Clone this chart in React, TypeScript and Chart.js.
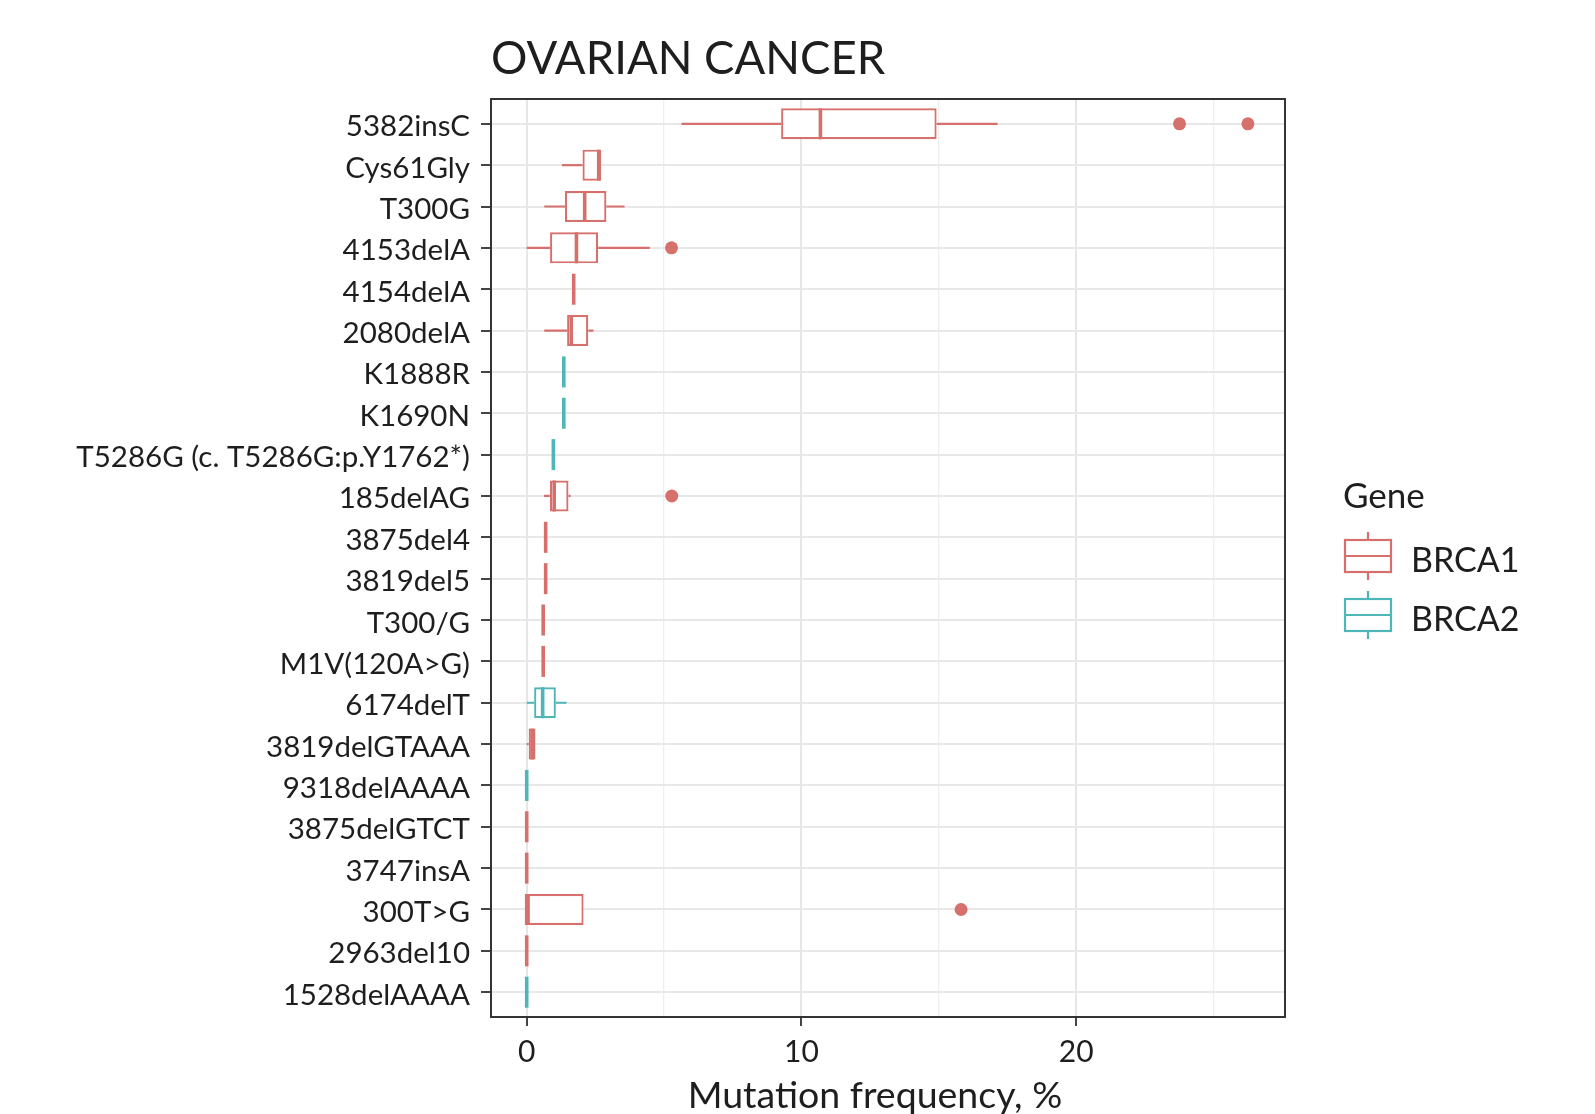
import React, { useEffect, useRef } from 'react';
import { Chart, registerables } from 'chart.js';
Chart.register(...registerables);

const categories = ['5382insC', 'Cys61Gly', 'T300G', '4153delA', '4154delA', '2080delA', 'K1888R', 'K1690N', 'T5286G (c. T5286G:p.Y1762*)', '185delAG', '3875del4', '3819del5', 'T300/G', 'M1V(120A>G)', '6174delT', '3819delGTAAA', '9318delAAAA', '3875delGTCT', '3747insA', '300T>G', '2963del10', '1528delAAAA'];
const genes = ['BRCA1', 'BRCA1', 'BRCA1', 'BRCA1', 'BRCA1', 'BRCA1', 'BRCA2', 'BRCA2', 'BRCA2', 'BRCA1', 'BRCA1', 'BRCA1', 'BRCA1', 'BRCA1', 'BRCA2', 'BRCA1', 'BRCA2', 'BRCA1', 'BRCA1', 'BRCA1', 'BRCA1', 'BRCA2'];
const whiskerLow = [5.63, 1.28, 0.64, 0.0, 1.71, 0.64, 1.35, 1.35, 0.97, 0.63, 0.69, 0.69, 0.6, 0.6, 0.0, 0.0, 0, 0, 0, 0, 0, 0];
const q1 = [9.26, 2.03, 1.39, 0.85, 1.71, 1.47, 1.35, 1.35, 0.97, 0.84, 0.69, 0.69, 0.6, 0.6, 0.27, 0.07, 0, 0, 0, 0, 0, 0];
const median = [10.69, 2.62, 2.11, 1.81, 1.71, 1.62, 1.35, 1.35, 0.97, 1.0, 0.69, 0.69, 0.6, 0.6, 0.58, 0.2, 0, 0, 0, 0, 0, 0];
const q3 = [14.92, 2.71, 2.9, 2.6, 1.71, 2.24, 1.35, 1.35, 0.97, 1.52, 0.69, 0.69, 0.6, 0.6, 1.06, 0.32, 0, 0, 0, 2.07, 0, 0];
const whiskerHigh = [17.14, 2.71, 3.56, 4.48, 1.71, 2.43, 1.35, 1.35, 0.97, 1.6, 0.69, 0.69, 0.6, 0.6, 1.45, 0.32, 0, 0, 0, 2.07, 0, 0];
const outlierRow = ['5382insC', '5382insC', '4153delA', '185delAG', '300T>G'];
const outlierValue = [23.76, 26.25, 5.27, 5.28, 15.81];
const xTicks = [0, 5, 10, 15, 20, 25];
const xTickLabels = ['0', '', '10', '', '20', ''];
const geneNames = ['BRCA1', 'BRCA2'];
const geneColors = ['#d6706c', '#4fb5b7'];

const FONT = 'Lato, "Open Sans", sans-serif';
const TEXT = '#1e1e1e';
const colorOf = (g: string) => geneColors[geneNames.indexOf(g)];

const boxPlugin = {
  id: 'boxExtras',
  beforeDatasetsDraw(chart: any) {
    const { ctx } = chart;
    const xs = chart.scales.x;
    const ys = chart.scales.y;
    ctx.save();
    ctx.lineWidth = 2.2;
    categories.forEach((_, i) => {
      const y = ys.getPixelForValue(i + 1);
      ctx.strokeStyle = colorOf(genes[i]);
      ctx.beginPath();
      ctx.moveTo(xs.getPixelForValue(whiskerLow[i]), y);
      ctx.lineTo(xs.getPixelForValue(q1[i]), y);
      ctx.moveTo(xs.getPixelForValue(q3[i]), y);
      ctx.lineTo(xs.getPixelForValue(whiskerHigh[i]), y);
      ctx.stroke();
    });
    ctx.restore();
  },
  afterDatasetDraw(chart: any, args: any) {
    if (args.index !== 0) return;
    const { ctx } = chart;
    const xs = chart.scales.x;
    const ys = chart.scales.y;
    const meta = chart.getDatasetMeta(0);
    ctx.save();
    ctx.lineWidth = 3.6;
    categories.forEach((_, i) => {
      const y = ys.getPixelForValue(i + 1);
      const half = meta.data[i].height / 2;
      const x = xs.getPixelForValue(median[i]);
      ctx.strokeStyle = colorOf(genes[i]);
      ctx.beginPath();
      ctx.moveTo(x, y - half);
      ctx.lineTo(x, y + half);
      ctx.stroke();
    });
    ctx.restore();
  },
  afterDatasetsDraw(chart: any) {
    const { ctx, chartArea: a } = chart;
    ctx.save();
    ctx.strokeStyle = '#333333';
    ctx.lineWidth = 2;
    ctx.strokeRect(a.left, a.top, a.right - a.left, a.bottom - a.top);
    ctx.restore();
  },
  afterDraw(chart: any) {
    const { ctx } = chart;
    ctx.save();
    ctx.fillStyle = TEXT;
    ctx.font = `45.5px ${FONT}`;
    ctx.textBaseline = 'middle';
    ctx.textAlign = 'left';
    ctx.fillText('OVARIAN CANCER', 491, 59);
    // x axis title
    ctx.textAlign = 'center';
    ctx.font = `37.5px ${FONT}`;
    ctx.fillText('Mutation frequency, %', 875, 1096);
    // legend
    ctx.textAlign = 'left';
    ctx.font = `35px ${FONT}`;
    ctx.fillText('Gene', 1343, 497);
    const keyCenters = [556, 615];
    geneNames.forEach((g, k) => {
      const cy = keyCenters[k];
      const left = 1345, right = 1391;
      ctx.strokeStyle = geneColors[k];
      ctx.lineWidth = 2.2;
      ctx.beginPath();
      ctx.moveTo((left + right) / 2, cy - 24);
      ctx.lineTo((left + right) / 2, cy - 16);
      ctx.moveTo((left + right) / 2, cy + 16);
      ctx.lineTo((left + right) / 2, cy + 24);
      ctx.stroke();
      ctx.strokeRect(left, cy - 16, right - left, 32);
      ctx.beginPath();
      ctx.moveTo(left, cy);
      ctx.lineTo(right, cy);
      ctx.stroke();
      ctx.fillStyle = TEXT;
      ctx.font = `34px ${FONT}`;
      ctx.fillText(g, 1411, cy + 5);
    });
    ctx.restore();
  },
};

export default function App() {
  const ref = useRef<HTMLCanvasElement>(null);
  useEffect(() => {
    if (!ref.current) return;
    const chart = new Chart(ref.current, {
      type: 'bar',
      data: {
        datasets: [
          {
            type: 'bar',
            data: categories.map((_, i) => ({ x: [q1[i], q3[i]], y: i + 1 })) as any,
            backgroundColor: '#ffffff',
            borderColor: genes.map(colorOf),
            borderWidth: 2.2,
            borderSkipped: false,
            barPercentage: 0.75,
            categoryPercentage: 1,
          } as any,
          {
            type: 'scatter',
            data: outlierRow.map((r, k) => ({ x: outlierValue[k], y: categories.indexOf(r) + 1 })),
            backgroundColor: outlierRow.map((r) => colorOf(genes[categories.indexOf(r)])),
            borderWidth: 0,
            pointRadius: 6.5,
          } as any,
        ],
      },
      options: {
        indexAxis: 'y',
        animation: false,
        responsive: false,
        maintainAspectRatio: false,
        layout: { padding: { top: 99, right: 310, left: 0, bottom: 0 } },
        plugins: { legend: { display: false }, tooltip: { enabled: false }, title: { display: false } },
        scales: {
          x: {
            type: 'linear',
            offset: false,
            beginAtZero: false,
            min: -1.3,
            max: 27.6,
            afterFit: (s: any) => { s.height = 97; },
            afterBuildTicks: (s: any) => { s.ticks = xTicks.map((v) => ({ value: v })); },
            grid: {
              offset: false,
              color: (c: any) => (c.tick && c.tick.value % 10 === 0 ? '#e6e6e6' : '#eeeeee'),
              lineWidth: (c: any) => (c.tick && c.tick.value % 10 === 0 ? 2 : 1.3),
              tickColor: (c: any) => (c.tick && c.tick.value % 10 === 0 ? '#444444' : 'rgba(0,0,0,0)'),
              tickLength: 9,
            },
            border: { display: false },
            ticks: {
              color: TEXT,
              font: { family: FONT, size: 30 },
              padding: 8,
              maxRotation: 0,
              autoSkip: false,
              callback: (v: any) => xTickLabels[xTicks.indexOf(Number(v))] ?? '',
            },
            title: { display: false },
          },
          y: {
            type: 'linear',
            offset: false,
            beginAtZero: false,
            reverse: true,
            min: 0.4,
            max: categories.length + 0.6,
            afterFit: (s: any) => { s.width = 491; },
            afterBuildTicks: (s: any) => { s.ticks = categories.map((_, i) => ({ value: i + 1 })); },
            grid: { offset: false, color: '#e8e8e8', lineWidth: 2, tickColor: '#444444', tickLength: 10 },
            border: { display: false },
            ticks: {
              color: TEXT,
              font: { family: FONT, size: 29.5 },
              padding: 11,
              labelOffset: 3,
              autoSkip: false,
              callback: (v: any) => categories[Number(v) - 1] ?? '',
            },
          },
        },
      },
      plugins: [boxPlugin],
    });
    return () => chart.destroy();
  }, []);
  return (
    <div style={{ position: 'absolute', left: 0, top: 0, width: 1595, height: 1114, background: '#ffffff' }}>
      <canvas ref={ref} width={1595} height={1114} style={{ width: 1595, height: 1114 }} />
    </div>
  );
}
